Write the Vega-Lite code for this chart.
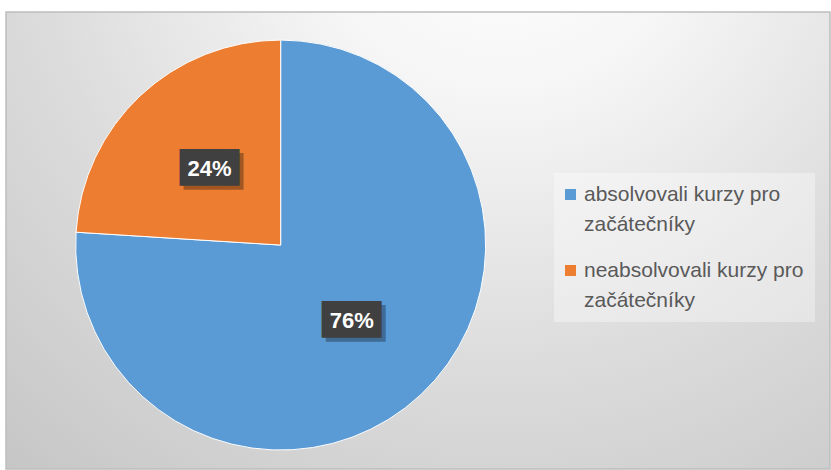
{
  "$schema": "https://vega.github.io/schema/vega-lite/v6.json",
  "width": 831,
  "height": 470,
  "autosize": {"type": "fit", "contains": "padding"},
  "padding": {"left": 5, "top": 11, "right": 0, "bottom": 0},
  "background": "#ffffff",
  "data": {
    "values": [
      {"kategorie": "absolvovali kurzy pro začátečníky", "podil": 0.76, "poradi": 1},
      {"kategorie": "neabsolvovali kurzy pro začátečníky", "podil": 0.24, "poradi": 2}
    ]
  },
  "layer": [
    {
      "data": {"values": [{"pozadi": 1}]},
      "mark": {
        "type": "rect",
        "stroke": "#bdbdbd",
        "strokeWidth": 1.5,
        "fill": {
          "gradient": "radial",
          "x1": 0.6, "y1": 0.08, "r1": 0,
          "x2": 0.6, "y2": 0.08, "r2": 0.95,
          "stops": [
            {"offset": 0, "color": "#ffffff"},
            {"offset": 0.25, "color": "#f6f6f6"},
            {"offset": 0.6, "color": "#dcdcdc"},
            {"offset": 1, "color": "#c4c4c4"}
          ]
        }
      },
      "encoding": {
        "x": {"value": 0},
        "x2": {"value": "width"},
        "y": {"value": 0},
        "y2": {"value": "height"}
      }
    },
    {
      "mark": {"type": "arc", "radius": 205, "x": {"expr": "width/3"}, "y": {"expr": "height*0.51"}, "stroke": "#ffffff", "strokeWidth": 1},
      "encoding": {
        "theta": {"field": "podil", "type": "quantitative", "stack": true},
        "order": {"field": "poradi", "type": "quantitative"},
        "color": {
          "field": "kategorie",
          "type": "nominal",
          "scale": {"domain": ["absolvovali kurzy pro začátečníky", "neabsolvovali kurzy pro začátečníky"], "range": ["#5B9BD5", "#ED7D31"]},
          "legend": {
            "title": null,
            "orient": "none",
            "legendX": 548,
            "legendY": 161,
            "symbolType": "square",
            "symbolSize": 121,
            "symbolStrokeWidth": 0,
            "symbolOffset": -5,
            "labelFontSize": 21,
            "labelFont": "Liberation Sans",
            "labelColor": "#595959",
            "labelLimit": 400,
            "labelOffset": 3,
            "labelExpr": "[substring(datum.label, 0, length(datum.label) - 12) + '          ', 'začátečníky']",
            "padding": 11,
            "rowPadding": 24,
            "fillColor": "rgba(255,255,255,0.35)"
          }
        }
      }
    },
    {
      "mark": {"type": "text", "radius": 104, "x": {"expr": "width/3"}, "y": {"expr": "height*0.51"}, "font": "DejaVu Sans", "fontSize": 31, "fill": "#000000", "opacity": 0.3, "dx": 10, "dy": 4, "baseline": "middle", "align": "center"},
      "encoding": {
        "theta": {"field": "podil", "type": "quantitative", "stack": true},
        "order": {"field": "poradi", "type": "quantitative"},
        "detail": {"field": "kategorie", "type": "nominal"},
        "text": {"value": "██▌"}
      }
    },
    {
      "mark": {"type": "text", "radius": 104, "x": {"expr": "width/3"}, "y": {"expr": "height*0.51"}, "font": "DejaVu Sans", "fontSize": 31, "fill": "#404040", "dx": 6, "baseline": "middle", "align": "center"},
      "encoding": {
        "theta": {"field": "podil", "type": "quantitative", "stack": true},
        "order": {"field": "poradi", "type": "quantitative"},
        "detail": {"field": "kategorie", "type": "nominal"},
        "text": {"value": "██▌"}
      }
    },
    {
      "mark": {"type": "text", "radius": 104, "x": {"expr": "width/3"}, "y": {"expr": "height*0.51"}, "font": "Liberation Sans", "fontSize": 22, "fontWeight": "bold", "fill": "#ffffff", "baseline": "middle", "align": "center"},
      "encoding": {
        "theta": {"field": "podil", "type": "quantitative", "stack": true},
        "order": {"field": "poradi", "type": "quantitative"},
        "detail": {"field": "kategorie", "type": "nominal"},
        "text": {"field": "podil", "type": "quantitative", "format": ".0%"}
      }
    }
  ],
  "config": {
    "view": {"stroke": null},
    "style": {"guide-label": {"lineHeight": 30}}
  }
}
